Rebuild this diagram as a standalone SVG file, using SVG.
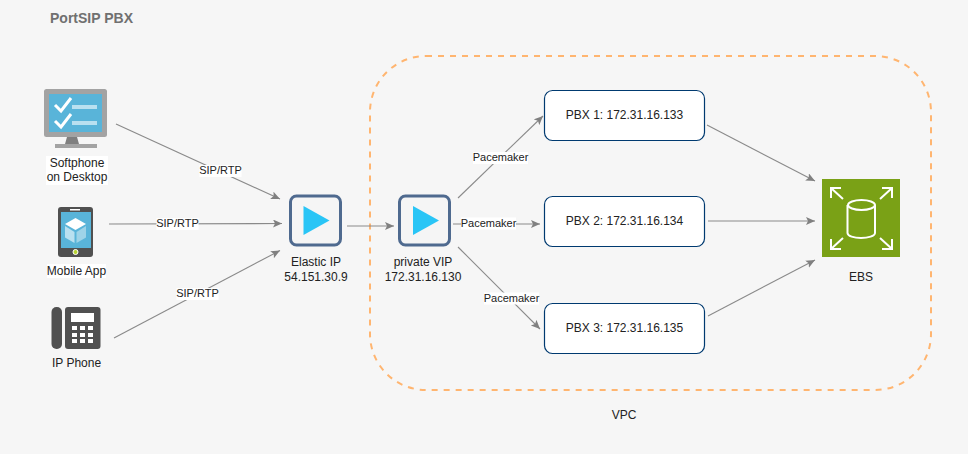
<svg xmlns="http://www.w3.org/2000/svg" width="968" height="454" viewBox="0 0 968 454">
<style>
text{font-family:"Liberation Sans",Arial,sans-serif;font-size:12px;fill:#222;text-anchor:middle}
.title{font-size:14px;font-weight:bold;fill:#707070;text-anchor:start}
.el{font-size:11px}
.conn{fill:none;stroke:#8a8a8a;stroke-width:1.1;marker-end:url(#arrow)}
.pbx{fill:#fff;stroke:#003a70;stroke-width:1.2}
.vip{fill:#f5f5f5;stroke:#4f6a8f;stroke-width:3}
.play{fill:#29c5f6}
.lbl{fill:#fff}
.wl{fill:none;stroke:#fff;stroke-width:2}
</style>
<defs>
<marker id="arrow" markerUnits="userSpaceOnUse" markerWidth="10" markerHeight="9" refX="9" refY="4" orient="auto" viewBox="0 0 10 9">
<path d="M0 0L9 4L0 8L2 4Z" fill="#808080"/>
</marker>
</defs>
<rect width="968" height="454" fill="#f6f6f6"/>
<text class="title" x="50" y="23">PortSIP PBX</text>
<rect id="vpc-boundary" x="370" y="56" width="561" height="334" rx="56" fill="none" stroke="#ffb570" stroke-width="2" stroke-dasharray="6 6"/>
<text x="624" y="419">VPC</text>
<g id="connectors">
<path class="conn" d="M116 124L280 199"/>
<path class="conn" d="M109 224L282 223.500"/>
<path class="conn" d="M114 338L280 250.500"/>
<path class="conn" d="M347 226L394 226"/>
<path class="conn" d="M458 198L543 116"/>
<path class="conn" d="M453 224L540 224"/>
<path class="conn" d="M458 247L540 329"/>
<path class="conn" d="M707 125L815 181"/>
<path class="conn" d="M708 221L815 221"/>
<path class="conn" d="M708 316L815 260"/>
<g id="connector-labels">
<rect class="lbl" x="199.500" y="165" width="42" height="12"/><text class="el" x="220.500" y="174">SIP/RTP</text>
<rect class="lbl" x="156.500" y="218" width="42" height="12"/><text class="el" x="177.500" y="227">SIP/RTP</text>
<rect class="lbl" x="176.500" y="288" width="42" height="12"/><text class="el" x="197.500" y="297">SIP/RTP</text>
<rect class="lbl" x="473" y="152" width="55" height="12"/><text class="el" x="500.500" y="161">Pacemaker</text>
<rect class="lbl" x="461" y="217.500" width="55" height="12"/><text class="el" x="488.500" y="227">Pacemaker</text>
<rect class="lbl" x="484" y="292.500" width="55" height="12"/><text class="el" x="511.500" y="302">Pacemaker</text>
</g>
</g>
<g id="softphone">
<rect x="44" y="89" width="63" height="48" rx="2.500" fill="#a3a3a3"/>
<rect x="49" y="94" width="53" height="38" fill="#59b4d9"/>
<path d="M67 137H77L79 144H65Z" fill="#7f7f7f"/>
<rect x="55" y="144" width="42" height="4" fill="#a3a3a3"/>
<path d="M55 105L61 111L71 98M55 121L61 127L71 114" fill="none" stroke="#fff" stroke-width="3"/>
<rect x="72" y="105" width="25" height="4" fill="#b9e0f0"/>
<rect x="72" y="121" width="25" height="4" fill="#b9e0f0"/>
<rect x="46" y="156" width="62" height="29" fill="#fff"/>
<text x="77" y="167">Softphone</text><text x="77" y="181">on Desktop</text>
</g>
<g id="mobile-app">
<rect x="58" y="207" width="35" height="50" rx="3" fill="#505050"/>
<rect x="61" y="212" width="30" height="36" fill="#59b4d9"/>
<rect x="70" y="209" width="10" height="1.500" fill="#fff"/>
<circle cx="75.500" cy="252" r="2.500" fill="#b8d432" stroke="#fff" stroke-width="1"/>
<path d="M75.500 218L86 224L75.500 230L65 224Z" fill="#fff"/>
<path d="M65 226L74.500 232V243L65 237.500Z" fill="#b9e0f0"/>
<path d="M86 226L76.500 232V243L86 237.500Z" fill="#9ed3e8"/>
<rect x="47" y="264" width="59" height="14" fill="#fff"/>
<text x="76.500" y="275">Mobile App</text>
</g>
<g id="ip-phone">
<rect x="51.500" y="307" width="10.500" height="42" rx="5" fill="#505050"/>
<rect x="65" y="307" width="35.500" height="42" rx="3" fill="#505050"/>
<rect x="71" y="313" width="23" height="9" fill="#fff"/>
<g fill="#fff">
<rect x="72" y="326" width="5" height="4"/><rect x="80" y="326" width="5" height="4"/><rect x="88" y="326" width="5" height="4"/>
<rect x="72" y="333" width="5" height="4"/><rect x="80" y="333" width="5" height="4"/><rect x="88" y="333" width="5" height="4"/>
<rect x="72" y="339" width="5" height="4"/><rect x="80" y="339" width="5" height="4"/><rect x="88" y="339" width="5" height="4"/>
</g>
<text x="76.500" y="367">IP Phone</text>
</g>
<g id="elastic-ip">
<rect class="vip" x="290.500" y="196" width="50" height="49" rx="6"/>
<path class="play" d="M303.500 206L329.500 220.500L303.500 235Z"/>
<text x="316" y="266">Elastic IP</text><text x="316" y="281">54.151.30.9</text>
</g>
<g id="private-vip">
<rect class="vip" x="399.500" y="196" width="50" height="49" rx="6"/>
<path class="play" d="M413 206L439 220.500L413 235Z"/>
<text x="423" y="266">private VIP</text><text x="423" y="281">172.31.16.130</text>
</g>
<g id="pbx1"><rect class="pbx" x="544.500" y="90.500" width="160" height="50" rx="8"/><text x="624.500" y="119">PBX 1: 172.31.16.133</text></g>
<g id="pbx2"><rect class="pbx" x="544.500" y="196.500" width="160" height="50" rx="8"/><text x="624.500" y="225">PBX 2: 172.31.16.134</text></g>
<g id="pbx3"><rect class="pbx" x="544.500" y="303.500" width="160" height="50" rx="8"/><text x="624.500" y="332">PBX 3: 172.31.16.135</text></g>
<g id="ebs">
<rect x="822" y="179" width="78" height="78" fill="#7aa116"/>
<path class="wl" d="M847.500 205V233C847.500 236 854 238 861 238C868 238 875 236 875 233V205"/>
<ellipse class="wl" cx="861.500" cy="205" rx="13.500" ry="5"/>
<path class="wl" d="M843 199L831 188M831 198V188H841M880 199L892 188M882 188H892V198M843 238L831 249M831 239V249H841M880 238L892 249M892 239V249H882"/>
<text x="861" y="281">EBS</text>
</g>
</svg>
